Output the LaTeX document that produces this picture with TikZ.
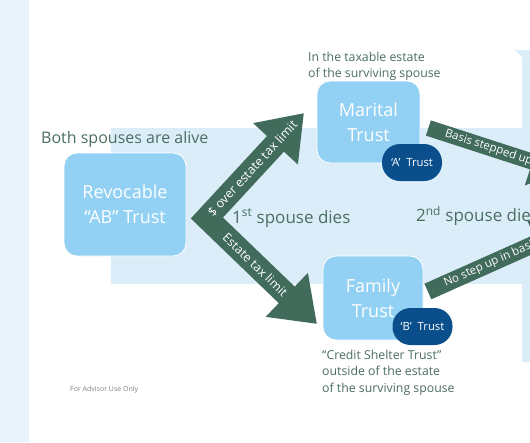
\documentclass[tikz,border=0pt]{standalone}
\usepackage{fontspec}
\setmainfont{Open Sans}
\usepackage{xcolor}
\usetikzlibrary{arrows.meta}
\definecolor{pagebg}{HTML}{EAF3FB}
\definecolor{bandbg}{HTML}{DCEDFA}
\definecolor{trustbox}{HTML}{92D1F3}
\definecolor{pillblue}{HTML}{0A4F8C}
\definecolor{arrowgreen}{HTML}{416B5B}
\definecolor{labelgreen}{HTML}{4B6E61}

\begin{document}
\begin{tikzpicture}[x=1pt,y=-1pt,
  trust/.style={fill=trustbox, draw=white, line width=0.8pt, rounded corners=13pt,
    text=white, align=center, inner sep=0pt, font=\fontsize{18}{25}\selectfont},
  pill/.style={fill=pillblue, rounded corners=18pt, minimum width=60pt, minimum height=37pt,
    inner sep=0pt, text=white, font=\fontsize{11.3}{12}\selectfont},
  note/.style={text=labelgreen, align=left, inner sep=0pt, font=\fontsize{12.3}{16.5}\selectfont},
  phase/.style={text=labelgreen, inner sep=0pt, anchor=west, font=\fontsize{17}{20}\selectfont},
  arrowlabel/.style={text=white, sloped, inner sep=0pt, font=\fontsize{11.5}{12}\selectfont}]
\useasboundingbox (0,0) rectangle (530,442);

% background
\fill[white] (0,0) rectangle (530,442);
\fill[pagebg] (0,0) rectangle (29,442);
\fill[bandbg] (111,128) rectangle (530,284);
\fill[bandbg] (515,50) -- (530,50) -- (530,362) -- (522,362) -- (522,57) -- cycle;

% trusts
\node[trust, minimum width=122pt, minimum height=103pt] (rev) at (125,204.5) {Revocable\\“AB” Trust};
\node[trust, minimum width=103pt, minimum height=82pt] (mar) at (368.5,122) {Marital\\Trust};
\node[trust, minimum width=100pt, minimum height=84pt] (fam) at (373,298) {Family\\Trust};
\node[pill] (pillA) at (412,162.5) {‘A’\ \ Trust};
\node[pill] (pillB) at (422.5,326.5) {‘B’\ \ Trust};

% chevron after the first death
\coordinate (split) at ([shift={(20.5,13.5)}]rev.east);
\coordinate (tipA) at (304,113);
\coordinate (tipB) at (317,324);
\draw[arrowgreen, line width=23pt, line join=miter,
  {Triangle[length=42pt,width=58pt]}-{Triangle[length=42pt,width=58pt]}] (tipA) -- (split) -- (tipB);
\path (split) -- (tipA) node[arrowlabel, pos=0.47, font=\fontsize{12.5}{13}\selectfont] {\$ over estate tax limit};
\path (split) -- (tipB) node[arrowlabel, pos=0.44, font=\fontsize{12.3}{13}\selectfont] {Estate tax limit};

% second death
\coordinate (basisA) at ([shift={(8,6)}]mar.east);
\coordinate (outA) at (561,171);
\coordinate (basisB) at ([shift={(4.5,-6.5)}]fam.east);
\coordinate (outB) at (564.6,230.5);
\draw[arrowgreen, line width=16pt, -{Triangle[length=30pt,width=48pt]}] (basisA) -- (outA)
  node[arrowlabel, pos=0.07, anchor=west] {Basis stepped up};
\draw[arrowgreen, line width=17pt, -{Triangle[length=30pt,width=48pt]}] (basisB) -- (outB)
  node[arrowlabel, pos=0.065, anchor=west] {No step up in basis};

% labels
\node[phase, font=\fontsize{16}{18}\selectfont] (alive) at (41,139) {Both spouses are alive};
\node[phase] (first) at (232,218) {1\textsuperscript{st} spouse dies};
\node[phase] (second) at (416,216) {2\textsuperscript{nd} spouse dies};
\node[note, anchor=north west] (taxable) at (308,51.5) {In the taxable estate\\of the surviving spouse};
\node[note, anchor=north west] (shelter) at (322,349.5) {“Credit Shelter Trust”\\outside of the estate\\of the surviving spouse};
\node[anchor=west, inner sep=0pt, text=gray, font=\fontsize{7}{8}\selectfont] (advisor) at (70,390) {For Advisor Use Only};
\end{tikzpicture}
\end{document}
